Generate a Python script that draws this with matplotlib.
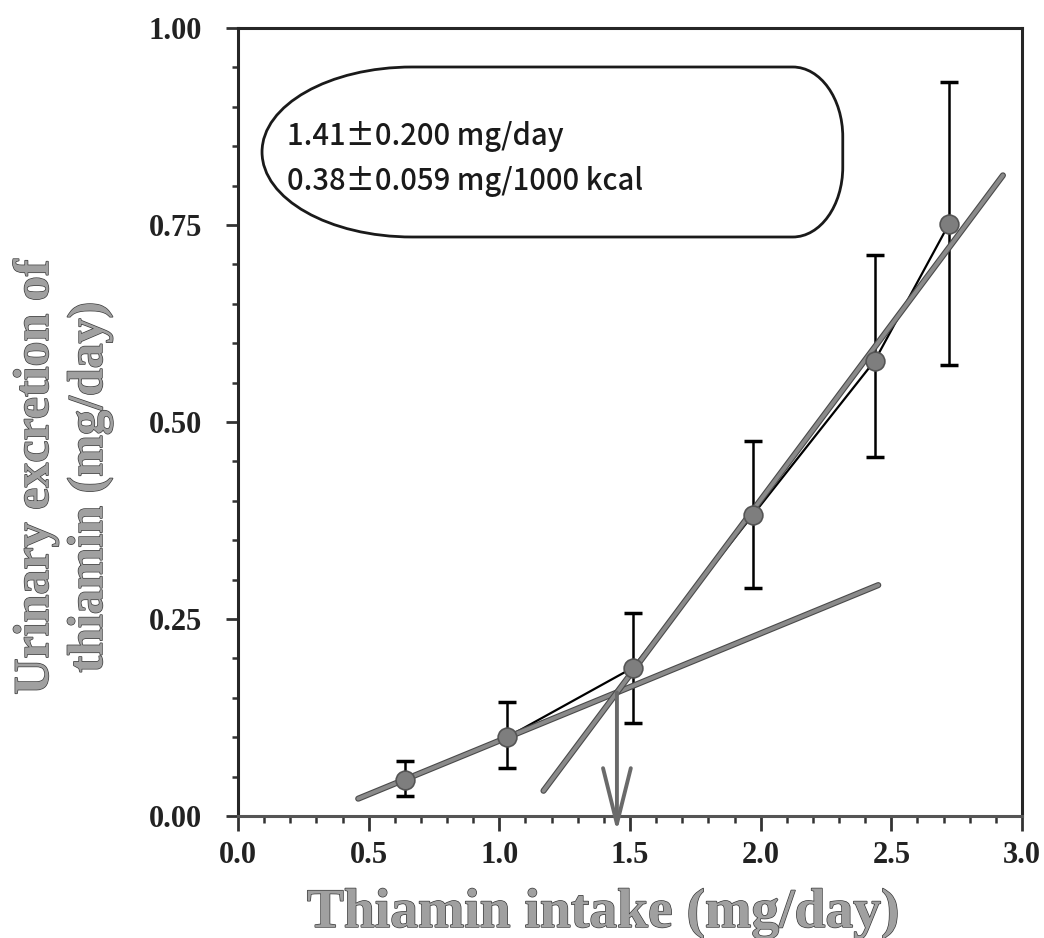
import matplotlib
matplotlib.use("Agg")
import matplotlib.pyplot as plt
import matplotlib.patheffects as pe
from matplotlib.path import Path
from matplotlib.patches import PathPatch
from matplotlib.ticker import MultipleLocator, FormatStrFormatter
import numpy as np

# ---- data ----
intake = [0.64, 1.03, 1.51, 1.97, 2.437, 2.72]
excretion = [0.046, 0.100, 0.188, 0.382, 0.578, 0.751]
err_upper = [0.070, 0.145, 0.258, 0.476, 0.712, 0.931]
err_lower = [0.025, 0.061, 0.118, 0.289, 0.456, 0.572]

low_line_x = [0.46, 2.45]
low_line_y = [0.022, 0.293]
high_line_x = [1.169, 2.927]
high_line_y = [0.032, 0.813]

arrow_tip_y = -0.02

box_lines = ["1.41\u00b10.200 mg/day", "0.38\u00b10.059 mg/1000 kcal"]

xticks = [0.0, 0.5, 1.0, 1.5, 2.0, 2.5, 3.0]
yticks = [0.00, 0.25, 0.50, 0.75, 1.00]

W, H = 1044, 938
fig = plt.figure(figsize=(W / 100, H / 100), dpi=100)
ax = fig.add_axes([238 / W, 1 - 816 / H, (1022 - 238) / W, (816 - 28) / H])

ax.set_xlim(0, 3.0)
ax.set_ylim(0, 1.0)

serif = ["Liberation Serif", "DejaVu Serif"]
tickc = "#222222"

# error bars
y = np.array(excretion)
yerr = np.array([y - np.array(err_lower), np.array(err_upper) - y])
ax.errorbar(intake, excretion, yerr=yerr, fmt="none", ecolor="black",
            elinewidth=1.8, capsize=6.5, capthick=2.5, zorder=2)

# connecting line
ax.plot(intake, excretion, color="black", lw=1.6, zorder=3)

# regression lines
gray_pe = [pe.withStroke(linewidth=4.4, foreground="#4a4a4a")]
ax.plot(low_line_x, low_line_y, color="#8a8a8a", lw=2.8, zorder=4,
        solid_capstyle="round", path_effects=gray_pe)
ax.plot(high_line_x, high_line_y, color="#8a8a8a", lw=2.8, zorder=4,
        solid_capstyle="round", path_effects=gray_pe)

# markers
ax.plot(intake, excretion, "o", ms=13.5, mfc="#7e7e7e", mec="#555555",
        mew=1.2, zorder=5)

# intersection of the two lines -> arrow
s1 = (low_line_y[1] - low_line_y[0]) / (low_line_x[1] - low_line_x[0])
b1 = low_line_y[0] - s1 * low_line_x[0]
s2 = (high_line_y[1] - high_line_y[0]) / (high_line_x[1] - high_line_x[0])
b2 = high_line_y[0] - s2 * high_line_x[0]
xi = (b2 - b1) / (s1 - s2)
yi = s1 * xi + b1
ax.annotate("", xy=(xi, arrow_tip_y), xytext=(xi, yi),
            arrowprops=dict(arrowstyle="->,head_length=4.0,head_width=1.0",
                            mutation_scale=10, color="#6a6a6a", lw=2.8,
                            shrinkA=0, shrinkB=0),
            annotation_clip=False, zorder=6)

# rounded (stadium-like) box in axes coordinates
x0, x1 = (262 - 238) / 783, (842 - 238) / 783
y0, y1 = (816 - 237) / 788, (816 - 67) / 788
rxl, ryl = 150 / 783, (y1 - y0) / 2
rxr, ryr = 50 / 783, 70 / 788
k = 0.5523
verts = [
    (x0 + rxl, y1), (x1 - rxr, y1),
    (x1 - rxr + k * rxr, y1), (x1, y1 - ryr + k * ryr), (x1, y1 - ryr),
    (x1, y0 + ryr),
    (x1, y0 + ryr - k * ryr), (x1 - rxr + k * rxr, y0), (x1 - rxr, y0),
    (x0 + rxl, y0),
    (x0 + rxl - k * rxl, y0), (x0, y0 + ryl - k * ryl), (x0, y0 + ryl),
    (x0, y1 - ryl),
    (x0, y1 - ryl + k * ryl), (x0 + rxl - k * rxl, y1), (x0 + rxl, y1),
    (x0 + rxl, y1),
]
codes = [Path.MOVETO, Path.LINETO,
         Path.CURVE4, Path.CURVE4, Path.CURVE4,
         Path.LINETO,
         Path.CURVE4, Path.CURVE4, Path.CURVE4,
         Path.LINETO,
         Path.CURVE4, Path.CURVE4, Path.CURVE4,
         Path.LINETO,
         Path.CURVE4, Path.CURVE4, Path.CURVE4,
         Path.CLOSEPOLY]
ax.add_patch(PathPatch(Path(verts, codes), transform=ax.transAxes,
                       facecolor="white", edgecolor="#1a1a1a", lw=2.0,
                       zorder=1))
gothic = ["Noto Sans CJK JP", "DejaVu Sans"]
for i, (line, py) in enumerate(zip(box_lines, [145, 190])):
    ax.text((287 - 238) / 783, (816 - py) / 788, line,
            transform=ax.transAxes, fontsize=21, family=gothic,
            fontweight="medium", color="#1a1a1a",
            va="baseline", ha="left", zorder=7)

# ticks
ax.set_xticks(xticks)
ax.set_yticks(yticks)
ax.xaxis.set_minor_locator(MultipleLocator(0.1))
ax.yaxis.set_minor_locator(MultipleLocator(0.05))
ax.xaxis.set_major_formatter(FormatStrFormatter("%.1f"))
ax.yaxis.set_major_formatter(FormatStrFormatter("%.2f"))
ax.tick_params(axis="x", which="major", direction="out", length=11, width=2,
               pad=7, color="#333333")
ax.tick_params(axis="x", which="minor", direction="out", length=5, width=1.8,
               color="#333333")
ax.tick_params(axis="y", which="major", direction="out", length=9, width=2,
               pad=17, color="#333333")
ax.tick_params(axis="y", which="minor", direction="out", length=4, width=1.8,
               color="#333333")
for lab in ax.get_xticklabels() + ax.get_yticklabels():
    lab.set_fontfamily(serif)
    lab.set_fontweight("bold")
    lab.set_fontsize(22)
    lab.set_color(tickc)

for side in ["left", "bottom", "top", "right"]:
    ax.spines[side].set_linewidth(2.2)
    ax.spines[side].set_color("#262626")
ax.spines["bottom"].set_color("#555555")

# axis labels (placed as figure text)
lab_pe = [pe.withStroke(linewidth=1.0, foreground="#3a3a3a")]
fig.text(603 / W, 1 - 927 / H, "Thiamin intake (mg/day)", ha="center",
         va="baseline", fontsize=40, fontweight="bold", family=serif,
         color="#a0a0a0", path_effects=lab_pe)
fig.text(48 / W, 1 - 477 / H, "Urinary excretion of", rotation=90,
         rotation_mode="anchor", ha="center", va="baseline", fontsize=36,
         fontweight="bold", family=serif, color="#a0a0a0", path_effects=lab_pe)
fig.text(102 / W, 1 - 487 / H, "thiamin (mg/day)", rotation=90,
         rotation_mode="anchor", ha="center", va="baseline", fontsize=36,
         fontweight="bold", family=serif, color="#a0a0a0", path_effects=lab_pe)

fig.savefig("out.png", dpi=100, facecolor="white")
